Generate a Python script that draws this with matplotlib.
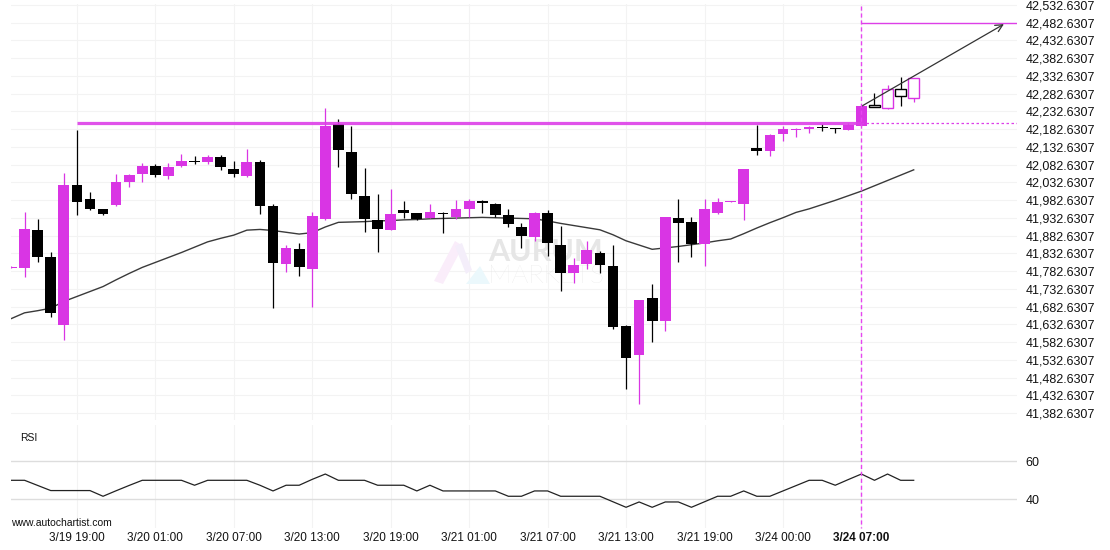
import numpy as np
import matplotlib
matplotlib.use("Agg")
import matplotlib.pyplot as plt
from matplotlib.lines import Line2D
from matplotlib.patches import Polygon

plt.rcParams['font.family'] = ['Liberation Sans', 'DejaVu Sans']

# hourly candles
opens = [41792, 41792, 41898, 41822, 41631, 42025, 41986, 41958, 41970, 42034,
         42057, 42079, 42051, 42080, 42093, 42091, 42104, 42070, 42051, 42090,
         41966, 41803, 41845, 41788, 41929, 42197, 42118, 41993, 41927, 41899,
         41955, 41945, 41933, 41947, 41935, 41958, 41980, 41971, 41940, 41907,
         41880, 41946, 41856, 41778, 41803, 41834, 41797, 41628, 41547, 41706,
         41642, 41932, 41920, 41858, 41946, 41978, 41972, 42130, 42122, 42170,
         42180, 42183, 42188, 42186, 42180, 42192, 42251, 42243, 42295, 42271]
highs = [41796, 41948, 41930, 41836, 42058, 42180, 42005, 41959, 42056, 42056,
         42087, 42084, 42086, 42113, 42108, 42110, 42110, 42093, 42126, 42095,
         41971, 41855, 41861, 41948, 42241, 42211, 42192, 42072, 41999, 42013,
         41980, 41946, 41971, 41948, 41983, 41985, 41983, 41975, 41957, 41919,
         41949, 41955, 41909, 41819, 41867, 41840, 41855, 41632, 41702, 41745,
         41936, 41985, 41935, 41985, 41989, 41981, 42071, 42194, 42169, 42192,
         42185, 42192, 42197, 42187, 42199, 42248, 42284, 42306, 42329, 42326]
lows = [41790, 41765, 41809, 41654, 41588, 41940, 41955, 41941, 41966, 42019,
        42033, 42049, 42043, 42077, 42084, 42084, 42068, 42049, 42049, 41943,
        41678, 41779, 41769, 41681, 41928, 42077, 41985, 41892, 41836, 41898,
        41931, 41927, 41931, 41889, 41930, 41936, 41945, 41936, 41907, 41848,
        41868, 41826, 41726, 41748, 41788, 41776, 41619, 41449, 41407, 41584,
        41615, 41807, 41823, 41798, 41943, 41977, 41927, 42111, 42108, 42148,
        42161, 42171, 42177, 42171, 42179, 42191, 42244, 42239, 42247, 42258]
closes = [41795, 41901, 41823, 41665, 42025, 41978, 41958, 41944, 42034, 42053,
          42079, 42054, 42076, 42093, 42091, 42104, 42077, 42057, 42090, 41967,
          41806, 41848, 41795, 41938, 42192, 42124, 42000, 41929, 41902, 41943,
          41947, 41929, 41949, 41944, 41958, 41980, 41974, 41942, 41916, 41882,
          41945, 41863, 41778, 41800, 41842, 41801, 41626, 41539, 41701, 41642,
          41935, 41919, 41860, 41958, 41977, 41980, 42070, 42122, 42166, 42183,
          42184, 42189, 42186, 42183, 42194, 42247, 42244, 42295, 42275, 42326]

# moving average line
ma = [41649, 41665, 41671, 41678, 41697, 41711, 41725, 41739, 41758, 41776,
      41793, 41807, 41821, 41835, 41850, 41865, 41875, 41884, 41898, 41900,
      41897, 41892, 41887, 41891, 41907, 41920, 41921, 41922, 41924, 41925,
      41927, 41928, 41930, 41931, 41932, 41933, 41934, 41933, 41932, 41931,
      41930, 41924, 41917, 41911, 41905, 41899, 41885, 41868, 41856, 41844,
      41848, 41852, 41857, 41862, 41868, 41873, 41888, 41904, 41919, 41933,
      41948, 41958, 41970, 41982, 41995, 42008, 42023, 42038, 42053, 42068]

rsi = [50, 50, 47.3, 44.6, 44.6, 44.6, 44.6, 41.6, 44.5, 47.3,
       50, 50, 50, 50, 47.4, 50, 50, 50, 50, 47.4,
       44.4, 47.4, 47.4, 50.5, 53.3, 50, 50, 50, 47.4, 47.4,
       47.4, 44.4, 47.4, 44.4, 44.4, 44.4, 44.4, 44.4, 41.6, 41.6,
       44.4, 44.4, 41.6, 41.6, 41.6, 41.6, 38.7, 35.8, 38.6, 35.8,
       38.6, 38.6, 35.8, 38.7, 41.6, 41.6, 44.4, 41.6, 41.6, 44.4,
       47.2, 50, 50, 47.4, 50.4, 53.3, 50, 53.3, 50, 50]

tick_idx = [5, 11, 17, 23, 29, 35, 41, 47, 53, 59, 65]
tick_labels = ["3/19 19:00", "3/20 01:00", "3/20 07:00", "3/20 13:00", "3/20 19:00",
               "3/21 01:00", "3/21 07:00", "3/21 13:00", "3/21 19:00", "3/24 00:00",
               "3/24 07:00"]

resistance = 42199
resistance_start = 5
breakout_idx = 65
hollow_from = 66
target = 42482.6307
arrow_end_idx = 75.9
price_ticks = np.arange(41382.6307, 42533, 50)

UP = '#d935e4'
DOWN = '#000000'
LEVEL = '#dd3fe8'

fig = plt.figure(figsize=(11.1, 5.5), dpi=100)
ax = fig.add_axes([0.01036, 0.23636, 0.90586, 0.75636])
ax_rsi = fig.add_axes([0.01036, 0.04, 0.90586, 0.18727])

o = np.array(opens, dtype=float)
h = np.array(highs, dtype=float)
l = np.array(lows, dtype=float)
c = np.array(closes, dtype=float)
idx = np.arange(len(o))
colors = np.where(c >= o, UP, DOWN)

# candles
ax.vlines(idx, l, h, colors=colors, lw=0.9, zorder=2)
body_bottom = np.minimum(o, c)
body_h = np.maximum(np.abs(c - o), 3)
filled = idx < hollow_from
ax.bar(idx[filled], body_h[filled], bottom=body_bottom[filled], width=0.82,
       color=colors[filled], linewidth=0, zorder=3)
ax.bar(idx[~filled], body_h[~filled], bottom=body_bottom[~filled], width=0.82,
       facecolor='white', edgecolor=colors[~filled], linewidth=1, zorder=3)

ax.plot(idx, ma, color='#3a3a3a', lw=1.0, zorder=1.5)

xmax = 76.9
ax.set_xlim(0, xmax)
ax.set_ylim(41362.9, 42535.4)

# breakout level, target and arrow
ax.hlines(resistance, resistance_start, breakout_idx, color=LEVEL, lw=2.3, alpha=0.9, zorder=4)
ax.hlines(resistance, breakout_idx, xmax, color=LEVEL, lw=0.9, linestyles=(0, (2, 2)), zorder=4)
ax.hlines(target, breakout_idx, xmax, color=LEVEL, lw=1.0, zorder=4)
ax.annotate('', xy=(arrow_end_idx, target - 4), xytext=(breakout_idx, c[breakout_idx]),
            arrowprops=dict(arrowstyle='->', color='#333333', lw=0.9,
                            shrinkA=0, shrinkB=0, mutation_scale=13), zorder=5)

ax.set_yticks(price_ticks)
ax.set_yticklabels([f"{v:,.4f}" for v in price_ticks])
ax.set_xticks(tick_idx)
ax.yaxis.tick_right()
ax.tick_params(axis='y', length=0, pad=6, labelsize=9, labelcolor='#111111')
ax.tick_params(axis='x', length=0, labelbottom=False)
ax.grid(True, color='#f3f3f3', lw=0.8)
ax.set_axisbelow(True)
for s in ax.spines.values():
    s.set_visible(False)

# RSI panel
ax_rsi.plot(idx, rsi, color='#222222', lw=0.9)
ax_rsi.set_xlim(0, xmax)
ax_rsi.set_ylim(24.9, 79.1)
ax_rsi.set_yticks([40, 60])
ax_rsi.yaxis.tick_right()
ax_rsi.set_xticks(tick_idx)
ax_rsi.set_xticklabels(tick_labels)
ax_rsi.get_xticklabels()[-1].set_fontweight('bold')
ax_rsi.tick_params(axis='y', length=0, pad=6, labelsize=9, labelcolor='#111111')
ax_rsi.tick_params(axis='x', length=0, pad=3, labelsize=8.5, labelcolor='#111111')
ax_rsi.yaxis.grid(True, color='#dddddd', lw=1)
ax_rsi.xaxis.grid(True, color='#f3f3f3', lw=0.8)
ax_rsi.set_axisbelow(True)
for s in ax_rsi.spines.values():
    s.set_visible(False)
ax_rsi.text(0.0085, 0.87, "RSI", transform=ax_rsi.transAxes, fontsize=7.5,
            color='#111111', va='center', ha='left')

# vertical marker through both panels
fig.canvas.draw()
fx = fig.transFigure.inverted().transform(ax.transData.transform((breakout_idx, resistance)))[0]
fig.add_artist(Line2D([fx, fx], [1 - 6 / 550, 1 - 528 / 550], transform=fig.transFigure,
                      color='#e645f0', lw=1.0, linestyle=(0, (3, 2)), zorder=6))

# watermark
def px(x, y):
    return (x / 1110, 1 - y / 550)

for pts, col in [([(434, 281), (443, 284), (463, 246), (455, 241)], '#faedfa'),
                 ([(455, 246), (462, 243), (472, 270), (466, 274)], '#f4eefa'),
                 ([(466, 284), (490, 284), (480, 266)], '#ebf8fc')]:
    ax.add_patch(Polygon([px(*p) for p in pts], closed=True, transform=fig.transFigure,
                         facecolor=col, edgecolor='none', zorder=0.6))
ax.text(*px(488, 252), "AURUM", transform=fig.transFigure, fontsize=22, fontweight='bold',
        color='#e6e6e6', va='center', ha='left', zorder=0.6, family=['Lato', 'DejaVu Sans'])
ax.text(*px(488, 276), "MARKETS", transform=fig.transFigure, fontsize=19, fontweight='light',
        color='#e2e2e2', va='center', ha='left', zorder=0.6, family=['Lato', 'DejaVu Sans'])

fig.text(*px(11.5, 523), "www.autochartist.com", fontsize=7.5, color='#111111',
         va='center', ha='left')

fig.savefig('out.png', dpi=100)
